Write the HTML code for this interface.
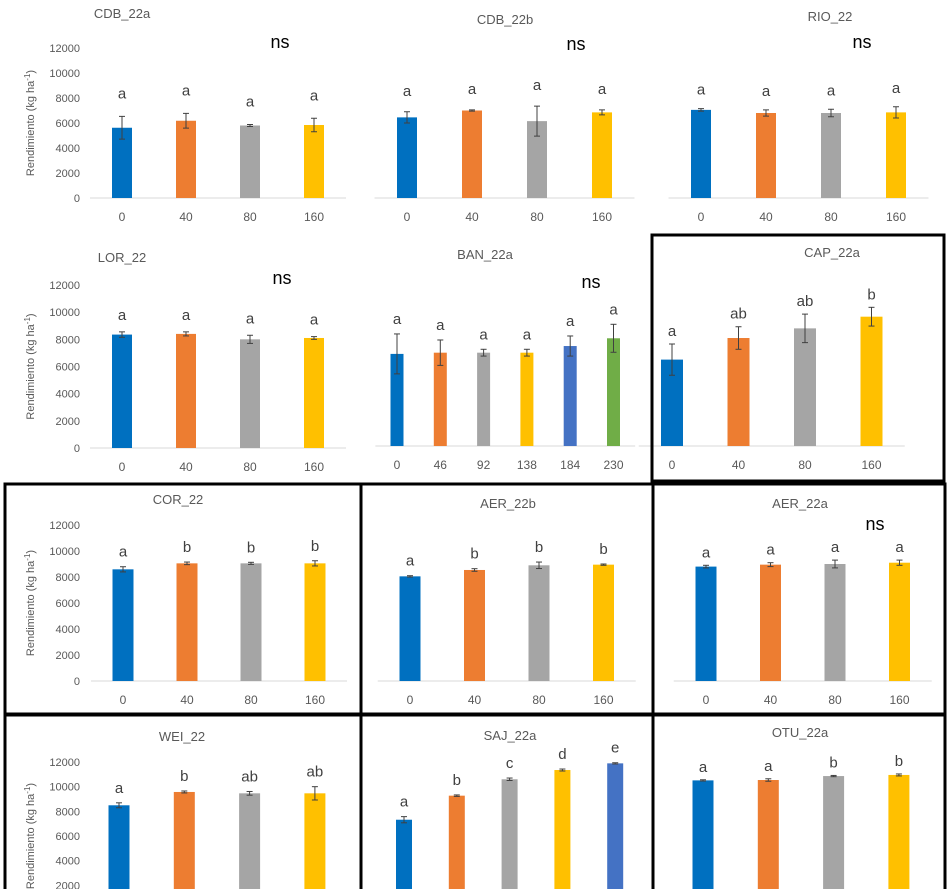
<!DOCTYPE html>
<html><head><meta charset="utf-8">
<style>
html,body{margin:0;padding:0;background:#fff;overflow:hidden;}
svg{display:block;font-family:"Liberation Sans",sans-serif;}
</style></head>
<body>
<svg id="chart" width="948" height="889" viewBox="0 0 948 889" xmlns="http://www.w3.org/2000/svg"></svg>
<script>
const cats4 = ["0","40","80","160"];
const cats6 = ["0","46","92","138","184","230"];
const cats5 = ["0","40","80","160","200"];
const cdb22aVals = [5620,6180,5800,5840];
const cdb22aErrs = [910,590,80,540];
const cdb22aLet = ["a","a","a","a"];
const cdb22bVals = [6450,7000,6150,6850];
const cdb22bErrs = [450,50,1200,200];
const cdb22bLet = ["a","a","a","a"];
const rio22Vals = [7050,6800,6800,6850];
const rio22Errs = [100,250,300,450];
const rio22Let = ["a","a","a","a"];
const lor22Vals = [8350,8400,8000,8100];
const lor22Errs = [200,150,300,100];
const lor22Let = ["a","a","a","a"];
const ban22aVals = [6780,6870,6870,6870,7360,7930];
const ban22aErrs = [1470,935,250,250,740,1030];
const ban22aLet = ["a","a","a","a","a","a"];
const cap22aVals = [6360,7950,8660,9520];
const cap22aErrs = [1150,830,1050,690];
const cap22aLet = ["a","ab","ab","b"];
const cor22Vals = [8590,9050,9050,9050];
const cor22Errs = [200,100,80,200];
const cor22Let = ["a","b","b","b"];
const aer22bVals = [8050,8540,8900,8950];
const aer22bErrs = [50,100,250,50];
const aer22bLet = ["a","b","b","b"];
const aer22aVals = [8800,8950,9000,9100];
const aer22aErrs = [100,150,300,200];
const aer22aLet = ["a","a","a","a"];
const wei22Vals = [8490,9570,9460,9460];
const wei22Errs = [200,80,150,540];
const wei22Let = ["a","b","ab","ab"];
const saj22aVals = [7320,9270,10600,11350,11890];
const saj22aErrs = [250,60,100,80,50];
const saj22aLet = ["a","b","c","d","e"];
const otu22aVals = [10510,10540,10860,10950];
const otu22aErrs = [50,100,50,80];
const otu22aLet = ["a","a","b","b"];
const yTicks = [0,2000,4000,6000,8000,10000,12000];

const C = ["#0070C0","#ED7D31","#A5A5A5","#FFC000","#4472C4","#70AD47"];
const svg = document.getElementById('chart');
const NS = "http://www.w3.org/2000/svg";
function mk(tag, attrs, parent){
  const e = document.createElementNS(NS, tag);
  for (const k in attrs) e.setAttribute(k, attrs[k]);
  (parent||svg).appendChild(e);
  return e;
}

const panels = [
 {id:"cdb-22a",title:"CDB_22a",tx:122,ty:18,base:198,h:150,x0:122,step:64,bw:20,cats:cats4,vals:cdb22aVals,errs:cdb22aErrs,lets:cdb22aLet,yaxis:true,ns:[280,48],lo:-8},
 {id:"cdb-22b",title:"CDB_22b",tx:505,ty:24,base:198,h:150,x0:407,step:65,bw:20,cats:cats4,vals:cdb22bVals,errs:cdb22bErrs,lets:cdb22bLet,ns:[576,50],lo:-6},
 {id:"rio-22",title:"RIO_22",tx:830,ty:21,base:198,h:150,x0:701,step:65,bw:20,cats:cats4,vals:rio22Vals,errs:rio22Errs,lets:rio22Let,ns:[862,48],lo:-4},
 {id:"lor-22",title:"LOR_22",tx:122,ty:262,base:448,h:163,x0:122,step:64,bw:20,cats:cats4,vals:lor22Vals,errs:lor22Errs,lets:lor22Let,yaxis:true,ns:[282,284],lo:-2},
 {id:"ban-22a",title:"BAN_22a",tx:485,ty:259,base:446,h:163,x0:397,step:43.3,bw:13,cats:cats6,vals:ban22aVals,errs:ban22aErrs,lets:ban22aLet,ns:[591,288],lo:0},
 {id:"cap-22a",title:"CAP_22a",tx:832,ty:257,base:446,h:163,x0:672,step:66.5,bw:22,cats:cats4,vals:cap22aVals,errs:cap22aErrs,lets:cap22aLet,lo:2},
 {id:"cor-22",title:"COR_22",tx:178,ty:504,base:681,h:156,x0:123,step:64,bw:21,cats:cats4,vals:cor22Vals,errs:cor22Errs,lets:cor22Let,yaxis:true,lo:0},
 {id:"aer-22b",title:"AER_22b",tx:508,ty:508,base:681,h:156,x0:410,step:64.5,bw:21,cats:cats4,vals:aer22bVals,errs:aer22bErrs,lets:aer22bLet,lo:0},
 {id:"aer-22a",title:"AER_22a",tx:800,ty:508,base:681,h:156,x0:706,step:64.5,bw:21,cats:cats4,vals:aer22aVals,errs:aer22aErrs,lets:aer22aLet,ns:[875,530],lo:2},
 {id:"wei-22",title:"WEI_22",tx:182,ty:741,base:910,h:148,x0:119,step:65.3,bw:21,cats:cats4,vals:wei22Vals,errs:wei22Errs,lets:wei22Let,yaxis:true,lo:0},
 {id:"saj-22a",title:"SAJ_22a",tx:510,ty:740,base:910,h:148,x0:404,step:52.8,bw:16,cats:cats5,vals:saj22aVals,errs:saj22aErrs,lets:saj22aLet,lo:0},
 {id:"otu-22a",title:"OTU_22a",tx:800,ty:737,base:910,h:148,x0:703,step:65.3,bw:21,cats:cats4,vals:otu22aVals,errs:otu22aErrs,lets:otu22aLet,lo:2}
];

panels.forEach(p=>{
  const g = mk('g',{});
  
  
  const yS = v => p.base - v/12000*p.h;
  const xS = i => p.x0 + i*p.step;
  const t = mk('text',{x:p.tx,y:p.ty,'text-anchor':'middle','font-size':13,fill:'#595959'},g);
  t.textContent = p.title;
  
  
  const n = p.vals.length;
  const bl = mk('line',{x1:xS(0)-p.step/2,x2:xS(n-1)+p.step/2,y1:p.base,y2:p.base,stroke:'#d9d9d9','stroke-width':1},g);
  
  
  if (p.yaxis){
    yTicks.forEach(v=>{
      const y = yS(v);
      if (y > 889) return;
      const tl = mk('text',{x:80,y:y+4,'text-anchor':'end','font-size':11,fill:'#595959'},g);
      tl.textContent = v;
      
      
    });
    const cy = Math.min(p.base - p.h/2, 840);
    const yt = mk('text',{transform:`translate(34,${cy}) rotate(-90)`,'text-anchor':'middle','font-size':11,fill:'#595959'},g);
    yt.innerHTML = 'Rendimiento (kg ha<tspan dy="-4" font-size="8">-1</tspan><tspan dy="4">)</tspan>';
    
    
  }
  for (let i=0;i<n;i++){
    const x = xS(i), v = p.vals[i], e = p.errs[i];
    const top = yS(v);
    const r = mk('rect',{x:x-p.bw/2,y:top,width:p.bw,height:p.base-top,fill:C[i]},g);
    
    
    const et = yS(v+e), eb = yS(v-e);
    const eg = mk('g',{stroke:'#404040','stroke-width':1},g);
    
    
    mk('line',{x1:x,x2:x,y1:et,y2:eb},eg);
    mk('line',{x1:x-3,x2:x+3,y1:et,y2:et},eg);
    mk('line',{x1:x-3,x2:x+3,y1:eb,y2:eb},eg);
    const lt = mk('text',{x:x,y:et-10+p.lo,'text-anchor':'middle','font-size':15,fill:'#404040'},g);
    lt.textContent = p.lets[i];
    
    
    const xl = mk('text',{x:x,y:p.base+23,'text-anchor':'middle','font-size':12,fill:'#595959'},g);
    xl.textContent = p.cats[i];
    
    
  }
  if (p.ns){
    const ns = mk('text',{x:p.ns[0],y:p.ns[1],'text-anchor':'middle','font-size':18,fill:'#000'},g);
    ns.textContent = 'ns';
    
    
  }
});

const boxes = [
  [652,235,944,481],
  [5,484,361,714],[361,484,653,714],[653,484,945,714],
  [5,715,361,892],[361,715,653,892],[653,715,945,892]
];
boxes.forEach(b=>{
  const r = mk('rect',{x:b[0],y:b[1],width:b[2]-b[0],height:b[3]-b[1],fill:'none',stroke:'#000','stroke-width':3});
  
  
});
</script>
</body></html>
